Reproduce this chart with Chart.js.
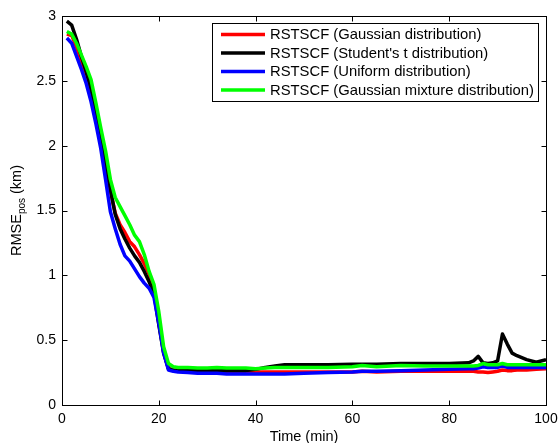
<!DOCTYPE html>
<html>
<head>
<meta charset="utf-8">
<script src="https://cdn.jsdelivr.net/npm/chart.js@4.4.1/dist/chart.umd.min.js"></script>
<style>
  html, body { margin: 0; padding: 0; background: #fff; }
  #wrap { width: 558px; height: 443px; }
</style>
</head>
<body>
<div id="wrap"><canvas id="chart"></canvas></div>
<script>
// time axis (min), shared by all four curves
const times = [1, 2, 3, 4, 5, 6, 7, 8, 9, 10, 11, 12, 13, 14, 15, 16, 17, 18, 19, 20, 21, 22, 23, 24,
  26, 28, 30, 32, 34, 36, 38, 40, 42, 44, 46,
  50, 55, 60, 62, 65, 70, 75, 80,
  84, 85, 86, 87, 88, 89, 90, 91, 92, 93, 94,
  96, 98, 100];

const gaussian = [2.86, 2.85, 2.76, 2.65, 2.54, 2.41, 2.25, 2.05, 1.84, 1.65, 1.48, 1.39, 1.33, 1.26, 1.22, 1.16, 1.09, 1.01, 0.89, 0.64, 0.41, 0.28, 0.27, 0.265,
  0.26, 0.26, 0.26, 0.26, 0.255, 0.255, 0.255, 0.255, 0.255, 0.255, 0.255,
  0.255, 0.255, 0.255, 0.26, 0.255, 0.26, 0.26, 0.26,
  0.26, 0.26, 0.255, 0.255, 0.25, 0.255, 0.26, 0.27, 0.265, 0.265, 0.27,
  0.27, 0.275, 0.28];

const studentT = [2.96, 2.93, 2.82, 2.69, 2.57, 2.43, 2.27, 2.06, 1.85, 1.66, 1.47, 1.36, 1.28, 1.21, 1.15, 1.10, 1.03, 0.95, 0.86, 0.62, 0.40, 0.28, 0.27, 0.265,
  0.265, 0.265, 0.265, 0.265, 0.265, 0.265, 0.265, 0.275, 0.29, 0.30, 0.31,
  0.31, 0.31, 0.315, 0.315, 0.315, 0.32, 0.32, 0.32,
  0.325, 0.34, 0.375, 0.325, 0.32, 0.325, 0.34, 0.548, 0.47, 0.40, 0.38,
  0.35, 0.33, 0.35];

const uniform = [2.83, 2.79, 2.69, 2.59, 2.48, 2.34, 2.17, 1.98, 1.74, 1.49, 1.36, 1.24, 1.15, 1.11, 1.05, 0.99, 0.94, 0.90, 0.83, 0.63, 0.40, 0.27, 0.26, 0.255,
  0.25, 0.245, 0.245, 0.245, 0.24, 0.24, 0.24, 0.24, 0.24, 0.24, 0.24,
  0.245, 0.25, 0.255, 0.26, 0.26, 0.265, 0.27, 0.275,
  0.28, 0.28, 0.285, 0.295, 0.29, 0.29, 0.29, 0.30, 0.29, 0.29, 0.29,
  0.29, 0.29, 0.29];

const mixture = [2.88, 2.86, 2.79, 2.70, 2.61, 2.51, 2.33, 2.14, 1.96, 1.74, 1.60, 1.53, 1.46, 1.39, 1.31, 1.26, 1.16, 1.03, 0.93, 0.72, 0.45, 0.32, 0.295, 0.29,
  0.29, 0.285, 0.285, 0.29, 0.285, 0.285, 0.285, 0.28, 0.285, 0.29, 0.29,
  0.29, 0.29, 0.295, 0.305, 0.295, 0.305, 0.30, 0.30,
  0.30, 0.30, 0.305, 0.32, 0.31, 0.31, 0.31, 0.32, 0.31, 0.31, 0.31,
  0.31, 0.31, 0.31];

const seriesNames = [
  'RSTSCF (Gaussian distribution)',
  "RSTSCF (Student's t distribution)",
  'RSTSCF (Uniform distribution)',
  'RSTSCF (Gaussian mixture distribution)'
];
const seriesColors = ['#ff0000', '#000000', '#0000ff', '#00ff00'];
const xTicks = [0, 20, 40, 60, 80, 100];
const yTicks = [0, 0.5, 1, 1.5, 2, 2.5, 3];

const FONT = '"Liberation Sans", Arial, Helvetica, sans-serif';

function toPoints(vals) {
  return times.map((t, i) => ({ x: t, y: vals[i] }));
}

// MATLAB style box: inward ticks on all sides, axis titles, legend in the corner
const matlabAxes = {
  id: 'matlabAxes',
  afterDraw(chart) {
    const ctx = chart.ctx;
    const a = chart.chartArea;
    const xs = chart.scales.x;
    const ys = chart.scales.y;
    const L = Math.round(a.left) + 0.5, R = Math.round(a.right) + 0.5;
    const T = Math.round(a.top) + 0.5, B = Math.round(a.bottom) + 0.5;
    const tick = 5;

    ctx.save();
    ctx.strokeStyle = '#000';
    ctx.lineWidth = 1;
    ctx.strokeRect(L, T, R - L, B - T);

    ctx.beginPath();
    xTicks.forEach(v => {
      const px = Math.round(xs.getPixelForValue(v)) + 0.5;
      ctx.moveTo(px, B); ctx.lineTo(px, B - tick);
      ctx.moveTo(px, T); ctx.lineTo(px, T + tick);
    });
    yTicks.forEach(v => {
      const py = Math.round(ys.getPixelForValue(v)) + 0.5;
      ctx.moveTo(L, py); ctx.lineTo(L + tick, py);
      ctx.moveTo(R, py); ctx.lineTo(R - tick, py);
    });
    ctx.stroke();

    // x title
    ctx.fillStyle = '#000';
    ctx.font = '14.5px ' + FONT;
    ctx.textAlign = 'center';
    ctx.textBaseline = 'alphabetic';
    ctx.fillText('Time (min)', (a.left + a.right) / 2, 441);

    // y title with subscript
    const mainFont = '14.5px ' + FONT;
    const subFont = '10px ' + FONT;
    ctx.font = mainFont;
    const w1 = ctx.measureText('RMSE').width;
    const w3 = ctx.measureText(' (km)').width;
    ctx.font = subFont;
    const w2 = ctx.measureText('pos').width;
    const total = w1 + w2 + w3;
    ctx.translate(21, (a.top + a.bottom) / 2);
    ctx.rotate(-Math.PI / 2);
    ctx.textAlign = 'left';
    let x0 = -total / 2;
    ctx.font = mainFont;
    ctx.fillText('RMSE', x0, 0);
    ctx.font = subFont;
    ctx.fillText('pos', x0 + w1, 4);
    ctx.font = mainFont;
    ctx.fillText(' (km)', x0 + w1 + w2, 0);
    ctx.setTransform(1, 0, 0, 1, 0, 0);

    // legend
    const bx = 212.5, by = 23.5, bw = 326, bh = 78;
    ctx.fillStyle = '#fff';
    ctx.fillRect(bx, by, bw, bh);
    ctx.strokeStyle = '#000';
    ctx.lineWidth = 1;
    ctx.strokeRect(bx, by, bw, bh);
    const rows = [34.5, 53, 71.5, 90];
    ctx.font = '14.8px ' + FONT;
    ctx.textBaseline = 'middle';
    ctx.textAlign = 'left';
    seriesNames.forEach((name, i) => {
      ctx.strokeStyle = seriesColors[i];
      ctx.lineWidth = 3.5;
      ctx.beginPath();
      ctx.moveTo(221, rows[i]);
      ctx.lineTo(265, rows[i]);
      ctx.stroke();
      ctx.fillStyle = '#000';
      ctx.fillText(name, 270, rows[i] + 0.5);
    });
    ctx.restore();
  }
};

const drawOrder = [4, 3, 2, 1]; // green ends up on top, red at the bottom
const seriesData = [gaussian, studentT, uniform, mixture];

new Chart(document.getElementById('chart'), {
  type: 'line',
  data: {
    datasets: seriesData.map((vals, i) => ({
      label: seriesNames[i],
      data: toPoints(vals),
      borderColor: seriesColors[i],
      backgroundColor: seriesColors[i],
      borderWidth: 3.5,
      pointRadius: 0,
      tension: 0,
      fill: false,
      order: drawOrder[i],
      borderJoinStyle: 'round'
    }))
  },
  options: {
    responsive: true,
    maintainAspectRatio: false,
    animation: false,
    devicePixelRatio: 1,
    layout: { padding: { top: 16, right: 12, left: 0, bottom: 0 } },
    plugins: {
      legend: { display: false },
      tooltip: { enabled: false }
    },
    scales: {
      x: {
        type: 'linear',
        min: 0,
        max: 100,
        afterBuildTicks(scale) { scale.ticks = xTicks.map(v => ({ value: v })); },
        afterFit(scale) {
          scale.height = 38;
          scale.paddingLeft = 0;
          scale.paddingRight = 0;
        },
        grid: { display: false, drawTicks: false },
        border: { display: false },
        ticks: {
          padding: 6,
          color: '#000',
          font: { family: FONT, size: 14 },
          maxRotation: 0,
          callback: v => String(v)
        }
      },
      y: {
        type: 'linear',
        min: 0,
        max: 3,
        afterBuildTicks(scale) { scale.ticks = yTicks.map(v => ({ value: v })); },
        afterFit(scale) {
          scale.width = 62;
          scale.paddingTop = 0;
          scale.paddingBottom = 0;
        },
        grid: { display: false, drawTicks: false },
        border: { display: false },
        ticks: {
          padding: 6,
          color: '#000',
          font: { family: FONT, size: 14 },
          callback: v => String(v)
        }
      }
    }
  },
  plugins: [matlabAxes]
});
</script>
</body>
</html>
